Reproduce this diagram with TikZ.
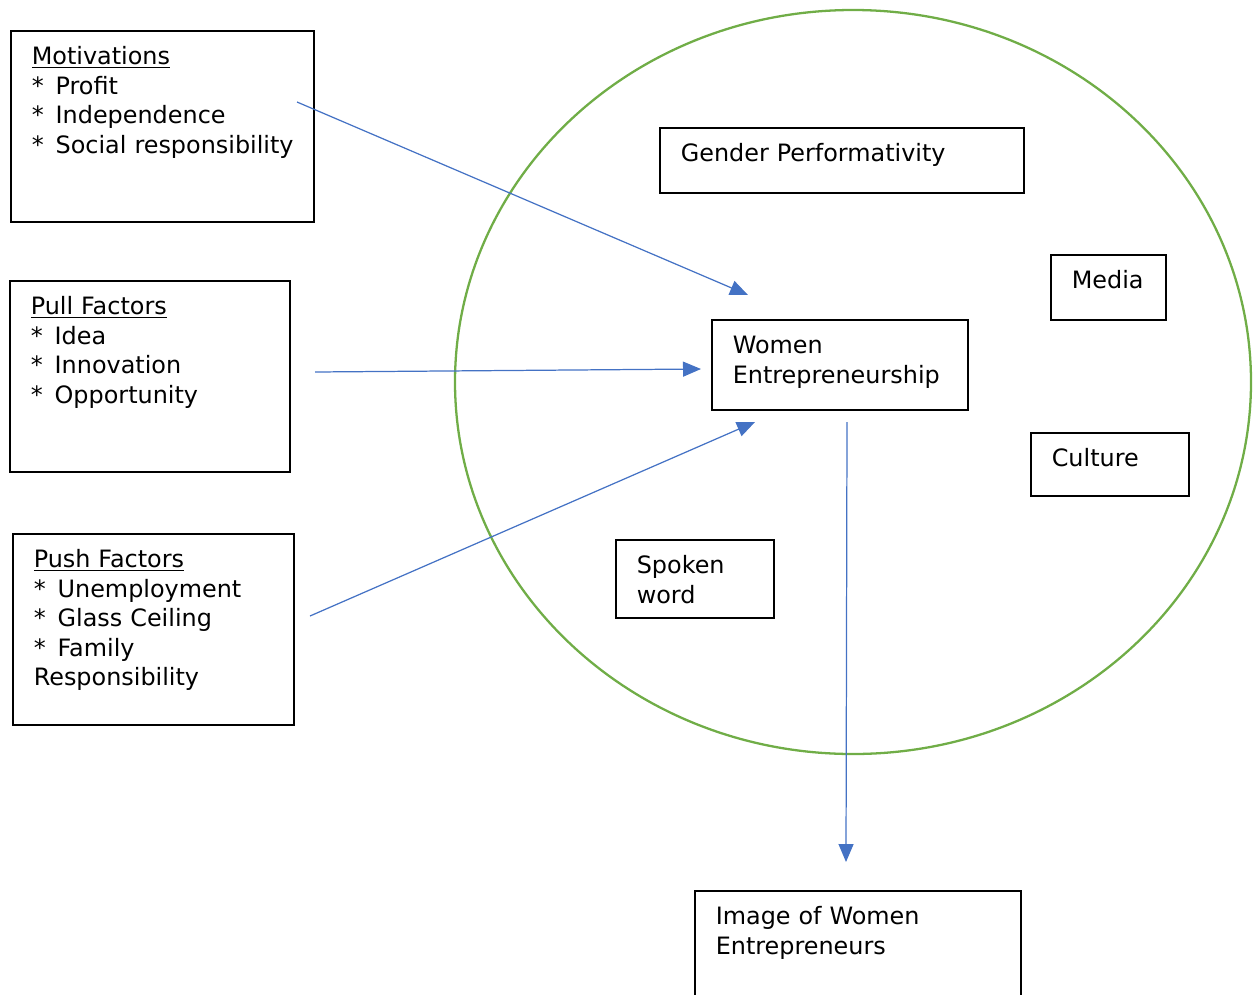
\documentclass[tikz,border=0pt]{standalone}
\usepackage{fontspec}
\setmainfont{DejaVu Sans}
\usepackage{xcolor}
\usetikzlibrary{arrows.meta}
\definecolor{ArrowBlue}{HTML}{4472C4}
\definecolor{RingGreen}{HTML}{70AD47}

\tikzset{
  factorbox/.style={draw=black, line width=0.9pt, anchor=north west, inner xsep=0.42cm, inner ysep=0pt,
    text height=0.68cm, align=left, font=\fontsize{13.6}{16.8}\selectfont},
  linkarrow/.style={draw=ArrowBlue, line width=0.7pt, -{Triangle[length=0.36cm, width=0.3cm]}}
}

\begin{document}
\begin{tikzpicture}[x=0.02cm, y=-0.02cm]
  \clip (0,0) rectangle (1254,994);

  % Green ring
  \draw[RingGreen, line width=1.3pt] (853,382) ellipse [x radius=398, y radius=372];

  % Factor boxes on the left
  \node[factorbox, text width=5.22cm, text depth=3.14cm] (motiv) at (10,30)
    {\underline{Motivations}\\{*}\, Profit\\{*}\, Independence\\\mbox{{*}\, Social responsibility}};
  \node[factorbox, text width=4.76cm, text depth=3.14cm] (pull) at (9,280)
    {\underline{Pull Factors}\\{*}\, Idea\\{*}\, Innovation\\{*}\, Opportunity};
  \node[factorbox, text width=4.78cm, text depth=3.14cm] (push) at (12,533)
    {\underline{Push Factors}\\{*}\, Unemployment\\{*}\, Glass Ceiling\\{*}\, Family\\Responsibility};

  % Boxes inside the ring
  \node[factorbox, text width=6.44cm, text depth=0.62cm] (gender) at (659,127) {Gender Performativity};
  \node[factorbox, text width=1.46cm, text depth=0.62cm] (media) at (1050,254) {Media};
  \node[factorbox, text width=4.28cm, text depth=1.12cm] (women) at (711,319) {Women\\Entrepreneurship};
  \node[factorbox, text width=2.32cm, text depth=0.58cm] (culture) at (1030,432) {Culture};
  \node[factorbox, text width=2.32cm, text depth=0.88cm] (spoken) at (615,539) {Spoken\\word};

  % Outcome box
  \node[factorbox, text width=5.68cm, text depth=1.52cm] (image) at (694,890) {Image of Women\\Entrepreneurs};

  % Arrow ends
  \coordinate (motiv-out) at (297,102);
  \coordinate (pull-out) at (315,372);
  \coordinate (push-out) at (310,616);
  \coordinate (women-in-a) at (748,295);
  \coordinate (women-in-b) at (701,369);
  \coordinate (women-in-c) at (755,422);
  \coordinate (women-out) at (847,422);
  \coordinate (image-in) at (846,862);

  % Arrows
  \draw[linkarrow] (motiv-out) -- (women-in-a);
  \draw[linkarrow] (pull-out) -- (women-in-b);
  \draw[linkarrow] (push-out) -- (women-in-c);
  \draw[linkarrow] (women-out) -- (image-in);
\end{tikzpicture}
\end{document}
